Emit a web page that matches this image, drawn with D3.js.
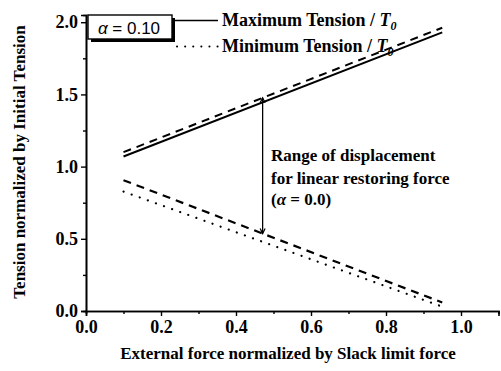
<!DOCTYPE html>
<html>
<head>
<meta charset="utf-8">
<script src="https://cdn.jsdelivr.net/npm/d3@7"></script>
<style>
  html, body { margin: 0; padding: 0; background: #fff; }
  svg { display: block; }
  text { font-family: "Liberation Serif", "Times New Roman", serif; font-weight: bold; fill: #000; }
</style>
</head>
<body>
<svg id="chart" width="501" height="371"></svg>
<script>
// Normalized external force (x) at the two ends of each line
const forceX = [0.1, 0.95];
// alpha = 0.10 (solid = maximum, dotted = minimum)
const maxTensionA010 = [1.07, 1.93];
const minTensionA010 = [0.827, 0.03];
// alpha = 0.0, linear restoring force (dashed)
const maxTensionA00 = [1.10, 1.962];
const minTensionA00 = [0.906, 0.059];

// Range arrow for alpha = 0.0
const rangeX = 0.471;

const xMajorTicks = [0.0, 0.2, 0.4, 0.6, 0.8, 1.0];
const xMinorTicks = [0.1, 0.3, 0.5, 0.7, 0.9, 1.1];
const yMajorTicks = [0.0, 0.5, 1.0, 1.5, 2.0];
const yMinorTicks = [0.25, 0.75, 1.25, 1.75];

const svg = d3.select("#chart");

const x = d3.scaleLinear().domain([0, 1.1]).range([86, 498.5]);
const y = d3.scaleLinear().domain([0, 2.05]).range([311, 15]);

// Axes
const xAxis = d3.axisBottom(x).tickValues(xMajorTicks).tickFormat(d3.format(".1f")).tickSize(5).tickPadding(4);
const xAxisMinor = d3.axisBottom(x).tickValues(xMinorTicks).tickFormat("").tickSize(3);
const yAxis = d3.axisLeft(y).tickValues(yMajorTicks).tickFormat(d3.format(".1f")).tickSize(5).tickPadding(3);
const yAxisMinor = d3.axisLeft(y).tickValues(yMinorTicks).tickFormat("").tickSize(3);

function styleAxis(g) {
  g.attr("font-family", null).attr("font-size", null);
  g.select(".domain").attr("stroke", "#000").attr("stroke-width", 1.6);
  g.selectAll(".tick line").attr("stroke", "#000").attr("stroke-width", 1.4);
  g.selectAll(".tick text")
    .attr("font-size", 18)
    .attr("fill", "#000");
}

svg.append("g").attr("transform", `translate(0,${y(0)})`).call(xAxisMinor).call(styleAxis);
svg.append("g").attr("transform", `translate(0,${y(0)})`).call(xAxis).call(styleAxis);
svg.append("g").attr("transform", `translate(${x(0)},0)`).call(yAxisMinor).call(styleAxis);
svg.append("g").attr("transform", `translate(${x(0)},0)`).call(yAxis).call(styleAxis);

// Axis titles
svg.append("text")
  .attr("x", 288).attr("y", 359)
  .attr("text-anchor", "middle")
  .attr("font-size", 17)
  .text("External force normalized by Slack limit force");

svg.append("text")
  .attr("transform", "translate(25,162) rotate(-90)")
  .attr("text-anchor", "middle")
  .attr("font-size", 17)
  .text("Tension normalized by Initial Tension");

// Lines
const line = d3.line().x(d => x(d[0])).y(d => y(d[1]));
const pts = arr => forceX.map((v, i) => [v, arr[i]]);

svg.append("path").attr("d", line(pts(maxTensionA00)))
  .attr("fill", "none").attr("stroke", "#000").attr("stroke-width", 2)
  .attr("stroke-dasharray", "8,6");
svg.append("path").attr("d", line(pts(maxTensionA010)))
  .attr("fill", "none").attr("stroke", "#000").attr("stroke-width", 2);
svg.append("path").attr("d", line(pts(minTensionA00)))
  .attr("fill", "none").attr("stroke", "#000").attr("stroke-width", 2.2)
  .attr("stroke-dasharray", "8,6");
svg.append("path").attr("d", line(pts(minTensionA010)))
  .attr("fill", "none").attr("stroke", "#000").attr("stroke-width", 2.2)
  .attr("stroke-linecap", "round")
  .attr("stroke-dasharray", "0.1,8.5");

// Range arrow between the alpha = 0.0 lines
const interp = (arr, xv) => arr[0] + (arr[1] - arr[0]) * (xv - forceX[0]) / (forceX[1] - forceX[0]);
const yTop = y(interp(maxTensionA00, rangeX));
const yBot = y(interp(minTensionA00, rangeX));
const ax = x(rangeX);
svg.append("line").attr("x1", ax).attr("x2", ax).attr("y1", yTop).attr("y2", yBot)
  .attr("stroke", "#000").attr("stroke-width", 1.3);
svg.append("path")
  .attr("d", `M${ax - 2.5},${yTop + 5} L${ax},${yTop} L${ax + 2.5},${yTop + 5}`)
  .attr("fill", "none").attr("stroke", "#000").attr("stroke-width", 1.2);
svg.append("path")
  .attr("d", `M${ax - 2.5},${yBot - 5} L${ax},${yBot} L${ax + 2.5},${yBot - 5}`)
  .attr("fill", "none").attr("stroke", "#000").attr("stroke-width", 1.2);

const note = svg.append("text").attr("font-size", 17);
note.append("tspan").attr("x", 271).attr("y", 161).text("Range of displacement");
note.append("tspan").attr("x", 271).attr("y", 184).text("for linear restoring force");
const n3 = note.append("tspan").attr("x", 271).attr("y", 205);
n3.text("(");
note.append("tspan").attr("font-style", "italic").text("\u03b1");
note.append("tspan").text(" = 0.0)");

// Legend
const legend = svg.append("g");
// box with drop shadow
legend.append("rect").attr("x", 91).attr("y", 18).attr("width", 84).attr("height", 24).attr("fill", "#000");
legend.append("rect").attr("x", 88).attr("y", 15).attr("width", 84).attr("height", 24)
  .attr("fill", "#fff").attr("stroke", "#000").attr("stroke-width", 1.4);
const alphaLabel = legend.append("text")
  .attr("x", 129).attr("y", 33.5)
  .attr("text-anchor", "middle")
  .style("font-family", "'Liberation Sans', Arial, sans-serif")
  .style("font-weight", "normal")
  .attr("font-size", 17);
alphaLabel.append("tspan").attr("font-style", "italic").text("\u03b1");
alphaLabel.append("tspan").text(" = 0.10");

legend.append("line").attr("x1", 175).attr("x2", 218).attr("y1", 20.5).attr("y2", 20.5)
  .attr("stroke", "#000").attr("stroke-width", 1.6);
legend.append("line").attr("x1", 177).attr("x2", 218).attr("y1", 46.5).attr("y2", 46.5)
  .attr("stroke", "#000").attr("stroke-width", 2)
  .attr("stroke-linecap", "round").attr("stroke-dasharray", "0.1,8");

function legendLabel(yPos, word) {
  const t = legend.append("text").attr("x", 222).attr("y", yPos).attr("font-size", 18);
  t.append("tspan").text(word + " Tension / ");
  t.append("tspan").attr("font-style", "italic").text("T");
  t.append("tspan").attr("font-style", "italic").attr("font-size", 12).attr("dy", 4).text("0");
}
legendLabel(26, "Maximum");
legendLabel(52, "Minimum");
</script>
</body>
</html>
